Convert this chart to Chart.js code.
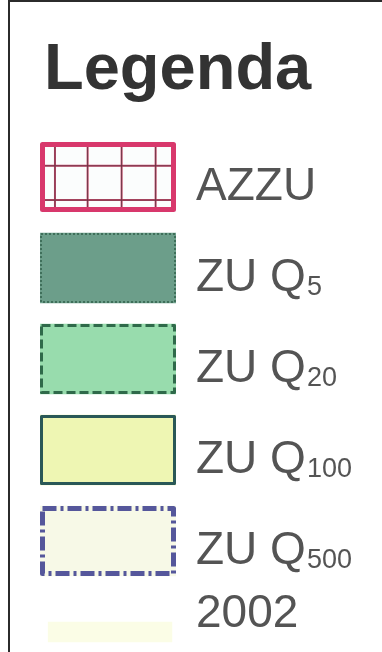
<!DOCTYPE html>
<html>
<head>
<meta charset="utf-8">
<script src="https://cdn.jsdelivr.net/npm/chart.js@4"></script>
<style>
  html, body { margin: 0; padding: 0; background: #fff; overflow: hidden; width: 382px; height: 652px; }
  #frame { position: absolute; left: 8px; top: 0; width: 380px; height: 660px; border-left: 2px solid #2b2b2b; border-top: 2px solid #2b2b2b; }
  #c { position: absolute; left: 0; top: 0; }
</style>
</head>
<body>
<div id="frame"></div>
<canvas id="c" width="382" height="700"></canvas>
<script>
// ---- data ----
const titleText = 'Legenda';
const labelMain = ['AZZU', 'ZU Q', 'ZU Q', 'ZU Q', 'ZU Q', '2002'];
const labelSub  = ['', '5', '20', '100', '500', ''];
const categories = labelMain.map((m, i) => m + labelSub[i]);
const boxSpans   = [[0, 1], [0, 1], [0, 1], [0, 1], [0, 1], null];
const stripSpans = [null, null, null, null, null, [0.06, 0.97]];

// ---- styles ----
const fills   = ['#fbfdfd', '#6c9e8a', '#98dcad', '#eef6b3', '#f7f9e7', '#fbfde6'];
const strokes = ['#d8386c', '#3f6f5a', '#2f6a4a', '#2a5857', '#55579b', null];
const strokeW = [5, 2, 3, 3, 5, 0];
const dashes  = [[], [2, 2], [9, 4], [], [14, 4, 3, 4], []];

const legendPlugin = {
  id: 'legendDecor',
  afterDatasetsDraw(chart) {
    const ctx = chart.ctx;
    chart.data.datasets.forEach((ds, di) => {
      const meta = chart.getDatasetMeta(di);
      meta.data.forEach((el, i) => {
        if (ds.data[i] == null || !strokes[i]) return;
        const p = el.getProps(['x', 'y', 'base', 'height'], true);
        const left = Math.min(p.x, p.base), right = Math.max(p.x, p.base);
        const top = p.y - p.height / 2, bottom = p.y + p.height / 2;
        ctx.save();
        if (i === 0) {
          const vx = [0.11, 0.35, 0.60, 0.85];
          const hy = [0.34, 0.83];
          const grid = (col, lw) => {
            ctx.strokeStyle = col; ctx.lineWidth = lw;
            vx.forEach(f => { const x = left + f * (right - left); ctx.beginPath(); ctx.moveTo(x, top); ctx.lineTo(x, bottom); ctx.stroke(); });
            hy.forEach(f => { const y = top + f * (bottom - top); ctx.beginPath(); ctx.moveTo(left, y); ctx.lineTo(right, y); ctx.stroke(); });
          };
          grid('#c84a6c', 2);
          grid('#5a3440', 0.8);
        }
        const w = strokeW[i];
        ctx.strokeStyle = strokes[i];
        ctx.lineWidth = w;
        ctx.setLineDash(dashes[i]);
        ctx.lineJoin = 'round';
        ctx.strokeRect(left + w / 2, top + w / 2, right - left - w, bottom - top - w);
        ctx.restore();
      });
    });
  },
  afterDraw(chart) {
    const ctx = chart.ctx;
    const ys = chart.scales.y;
    const opts = chart.options.plugins.legendDecor;
    ctx.save();
    ctx.textBaseline = 'alphabetic';
    // title
    ctx.fillStyle = '#333333';
    ctx.font = 'bold 65px "Liberation Sans", Arial, sans-serif';
    ctx.fillText(titleText, opts.titleX, opts.titleY);
    // item labels
    ctx.fillStyle = '#545454';
    labelMain.forEach((m, i) => {
      const y = ys.getPixelForValue(i) + (i === labelMain.length - 1 ? opts.lastOffset : opts.offset);
      ctx.font = '46px "Liberation Sans", Arial, sans-serif';
      ctx.fillText(m, opts.x, y);
      if (labelSub[i]) {
        const w = ctx.measureText(m).width;
        ctx.font = '27px "Liberation Sans", Arial, sans-serif';
        ctx.fillText(labelSub[i], opts.x + w + 1, y + 4);
      }
    });
    ctx.restore();
  }
};

new Chart(document.getElementById('c'), {
  type: 'bar',
  data: {
    labels: categories,
    datasets: [
      { data: boxSpans, backgroundColor: fills, borderWidth: 0, barThickness: 70, skipNull: true },
      { data: stripSpans, backgroundColor: fills, borderWidth: 0, barThickness: 20, skipNull: true }
    ]
  },
  options: {
    indexAxis: 'y',
    responsive: false,
    animation: false,
    devicePixelRatio: 1,
    layout: { padding: { left: 40, right: 206, top: 131.5, bottom: 22.5 } },
    scales: {
      x: { display: false, min: 0, max: 1 },
      y: { display: false, stacked: true }
    },
    plugins: {
      legend: { display: false },
      tooltip: { enabled: false },
      title: { display: false },
      legendDecor: { x: 196, offset: 23, lastOffset: -5, titleX: 44, titleY: 89 }
    }
  },
  plugins: [legendPlugin]
});
</script>
</body>
</html>
